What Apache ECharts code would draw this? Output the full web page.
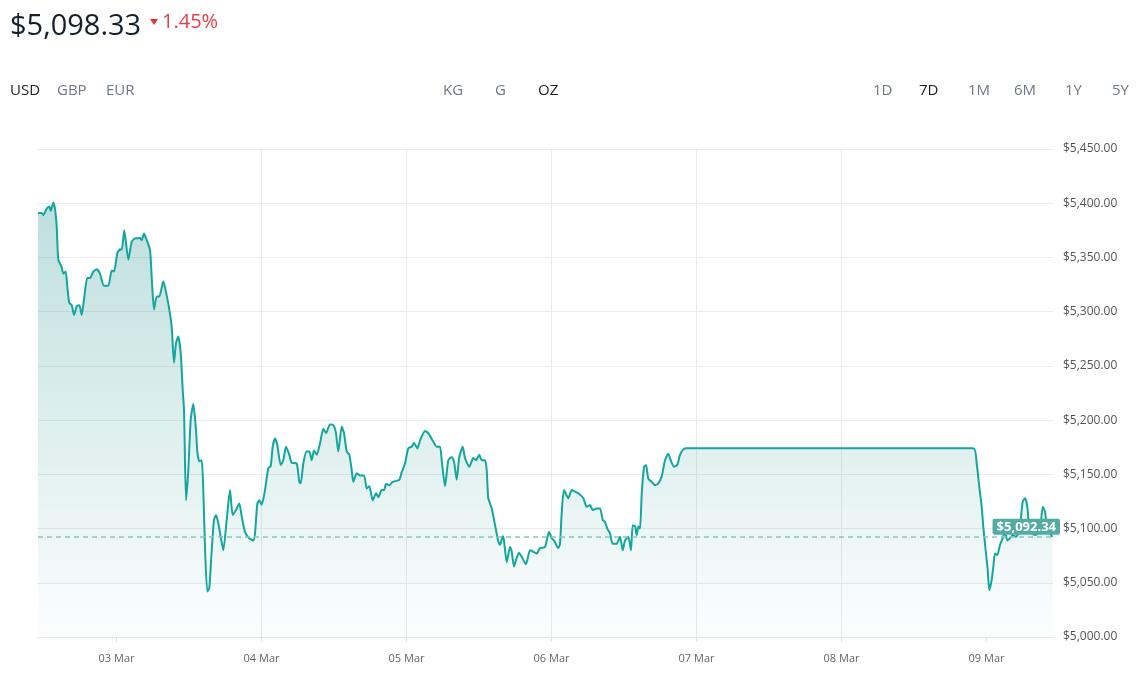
<!DOCTYPE html>
<html><head><meta charset="utf-8">
<script src="https://cdn.jsdelivr.net/npm/echarts@6/dist/echarts.min.js"></script>
<style>html,body{margin:0;padding:0;background:#fff}#c{width:1147px;height:675px}</style>
</head><body><div id="c"></div>
<script>
// hours since 02 Mar 00:00
const hours = [11.0,11.61,11.88,12.44,12.87,13.10,13.53,13.81,14.10,14.36,14.92,15.19,15.58,15.85,16.18,16.58,16.96,17.41,17.84,18.23,18.61,19.16,19.61,20.15,20.72,21.26,21.92,22.64,23.20,23.58,
24.13,24.57,24.85,25.28,25.95,26.51,27.06,27.88,28.16,28.55,28.99,29.54,29.82,30.20,30.65,31.08,31.74,32.30,32.85,33.13,33.51,33.84,34.22,34.62,34.95,35.17,35.50,35.88,36.27,36.71,
37.15,37.37,37.70,38.10,38.36,38.64,39.02,39.35,39.75,40.13,40.46,40.84,41.24,41.67,42.23,42.78,43.23,43.77,44.32,44.72,45.26,45.97,46.64,46.92,47.30,47.63,48.03,48.57,49.12,49.52,
49.85,50.23,50.61,51.17,51.60,52.05,52.60,52.99,53.82,54.25,54.48,54.91,55.47,55.91,56.30,56.68,57.13,57.68,58.22,58.67,59.33,59.88,60.32,60.70,61.27,61.65,62.10,62.53,62.92,63.19,
63.75,64.30,64.96,65.41,65.84,66.40,66.95,67.33,67.89,68.27,68.60,69.15,69.71,70.80,71.20,71.75,72.29,72.86,73.24,73.78,74.35,75.06,75.60,76.43,76.99,77.54,77.82,78.37,78.91,79.47,
79.86,80.30,80.73,81.30,81.68,82.39,83.05,83.50,84.04,84.44,84.99,85.27,85.53,86.10,86.48,86.81,87.19,87.47,87.92,88.13,88.58,89.13,89.41,89.79,90.12,90.61,91.06,91.77,92.43,92.98,
93.54,94.09,94.92,95.58,96.03,96.41,97.12,97.40,97.68,98.06,98.77,99.34,99.88,100.43,101.26,101.82,102.37,102.81,103.47,104.02,104.47,104.85,105.23,105.68,106.12,106.79,107.33,107.78,108.16,108.71,
109.15,109.43,109.82,110.10,110.36,110.64,110.93,111.31,111.64,112.02,112.58,113.13,113.67,114.23,114.78,115.33,115.72,116.27,116.82,117.26,117.81,118.37,165.81,166.37,166.80,167.20,167.46,167.91,168.19,168.46,
168.85,169.12,169.40,169.78,170.23,170.67,171.06,171.44,171.88,172.33,172.88,173.26,173.65,173.99,174.37,174.75,175.08,175.48,176.02,176.57,176.85,177.30,177.68,177.96,178.3,178.9];
const prices = [5391,5391,5389,5395,5397,5393,5400.5,5395,5378,5348,5341,5335,5337,5323,5308,5306,5297,5305,5306,5297,5311,5331,5331,5337,5339,5335,5324,5324,5338,5337,
5354,5357.5,5357,5375,5348,5364.5,5367.6,5368,5366,5372,5366,5357,5332,5302,5314,5314,5328,5315,5298,5286,5253,5271,5277,5262,5228,5209,5126,5154,5200,5215,
5191,5171,5162,5163,5135.5,5083,5042,5045,5080,5108,5112.5,5105,5092.5,5080,5108,5135.5,5112.5,5117,5123,5111,5097,5091,5089,5095.6,5123,5126,5122,5135.5,5155.6,5157.7,
5175.5,5183,5177,5158.6,5163,5175.5,5168,5160.7,5160,5143,5141.7,5160,5171,5171,5163,5172,5168,5178.6,5192,5188,5196,5195.5,5188,5171,5194,5188,5171,5168,5154,5143,
5151,5149,5149,5137,5139,5126,5132.5,5129,5135.5,5135.5,5141,5140,5143,5145,5152,5160,5174,5175.5,5179,5174,5183,5190,5188,5180,5175.5,5175.5,5163,5139,5163,5166,
5161.6,5145,5166,5175.5,5165,5157,5165,5163,5168,5163,5163,5154,5128,5118.6,5108,5098.7,5088,5085,5093,5089,5069,5083,5078.6,5065,5071,5077.7,5074,5067,5080,5078.6,
5077,5082,5083,5097,5091,5089,5082,5086,5114,5135.5,5128,5135.5,5134,5132.5,5128,5120,5121.7,5117,5118.6,5118.6,5108,5106,5100,5095.6,5086,5086,5092.5,5080,5089,5092.5,
5080,5103,5102,5094,5102,5100,5132.5,5157,5158.6,5146,5143,5140,5141.7,5148,5163,5169,5163,5157,5158.6,5168,5173,5174,5174,5160,5138.6,5120,5101.7,5077,5062,5043,
5052.6,5065,5077,5075.6,5085,5091,5097,5089,5091,5094,5092.5,5095.6,5108,5125,5128,5120,5098.7,5095.6,5094,5095.6,5097,5120,5115.6,5101.7,5097,5092.34];
const lastPrice = 5092.34;
const yTicks = [5000,5050,5100,5150,5200,5250,5300,5350,5400,5450];
const dayHours = [24,48,72,96,120,144,168];
const dayLabels = ['03 Mar','04 Mar','05 Mar','06 Mar','07 Mar','08 Mar','09 Mar'];
const xRange = [11, 179];
const currencies = ['USD','GBP','EUR'];
const units = ['KG','G','OZ'];
const ranges = ['1D','7D','1M','6M','1Y','5Y'];
const headline = '$5,098.33';
const change = '1.45%';

const data = hours.map((h, i) => [h, prices[i]]);
const fmtMoney = v => '$' + Number(v).toLocaleString('en-US', {minimumFractionDigits: 2, maximumFractionDigits: 2});

const FONT = '"Open Sans", sans-serif';
const DARK = '#1b1f24', GRAY = '#6e7884';
const texts = [];
texts.push({type:'text', left:10, top:12, style:{text:headline, font:'400 29px ' + FONT, fill:'#15202b'}});
texts.push({type:'polygon', shape:{points:[[150,19],[158,19],[154,25]]}, style:{fill:'#e2323e'}});
texts.push({type:'text', left:162, top:12, style:{text:change, font:'400 20px ' + FONT, fill:'#e4404b'}});
const curX = [10, 57, 106];
currencies.forEach((t, i) => texts.push({type:'text', left:curX[i], top:83, style:{text:t, font:'400 15px ' + FONT, fill: i === 0 ? DARK : GRAY}}));
const unitX = [443, 495, 538];
units.forEach((t, i) => texts.push({type:'text', left:unitX[i], top:83, style:{text:t, font:'400 15px ' + FONT, fill: i === 2 ? DARK : GRAY}}));
const rangeX = [873, 919, 968, 1014, 1065, 1112];
ranges.forEach((t, i) => texts.push({type:'text', left:rangeX[i], top:83, style:{text:t, font:'400 15px ' + FONT, fill: i === 1 ? DARK : GRAY}}));

const chart = echarts.init(document.getElementById('c'), null, {renderer:'canvas'});
chart.setOption({
  animation: false,
  graphic: texts,
  grid: {left: 38, right: 94, top: 149, bottom: 38},
  xAxis: {
    type: 'value',
    min: xRange[0],
    max: xRange[1],
    axisLine: {show: true, onZero: false, lineStyle: {color: '#e6e6e6'}},
    axisTick: {show: true, customValues: dayHours, length: 5, lineStyle: {color: '#e0e0e0'}},
    axisLabel: {customValues: dayHours, formatter: v => dayLabels[dayHours.indexOf(v)] || '', color: '#666', fontSize: 11, fontFamily: FONT, margin: 16},
    splitLine: {show: true, showMinLine: false, showMaxLine: false, lineStyle: {color: '#ebebeb'}}
  },
  yAxis: {
    type: 'value',
    position: 'right',
    min: yTicks[0],
    max: yTicks[yTicks.length - 1],
    interval: 50,
    axisLine: {show: false},
    axisTick: {show: false},
    axisLabel: {formatter: fmtMoney, color: '#555', fontSize: 12, fontFamily: FONT, margin: 10},
    splitLine: {lineStyle: {color: '#ebebeb'}}
  },
  series: [{
    type: 'line',
    data: data,
    showSymbol: false,
    smooth: 0.2,
    lineStyle: {color: '#12a69d', width: 2},
    itemStyle: {color: '#12a69d'},
    areaStyle: {color: new echarts.graphic.LinearGradient(0, 0, 0, 1, [
      {offset: 0, color: 'rgba(10,135,130,0.38)'},
      {offset: 1, color: 'rgba(10,135,130,0.02)'}
    ])},
    markLine: {
      silent: true,
      symbol: 'none',
      data: [{yAxis: lastPrice}],
      lineStyle: {type: [5, 4], color: '#86c6c1', width: 1.5},
      label: {
        position: 'insideEndTop',
        formatter: () => fmtMoney(lastPrice),
        backgroundColor: '#52aca4',
        color: '#fff',
        fontWeight: 'bold',
        fontSize: 13,
        fontFamily: FONT,
        padding: [2, 4, 1, 4],
        borderRadius: 2,
        distance: [-7, 2]
      }
    }
  }]
});
</script></body></html>
